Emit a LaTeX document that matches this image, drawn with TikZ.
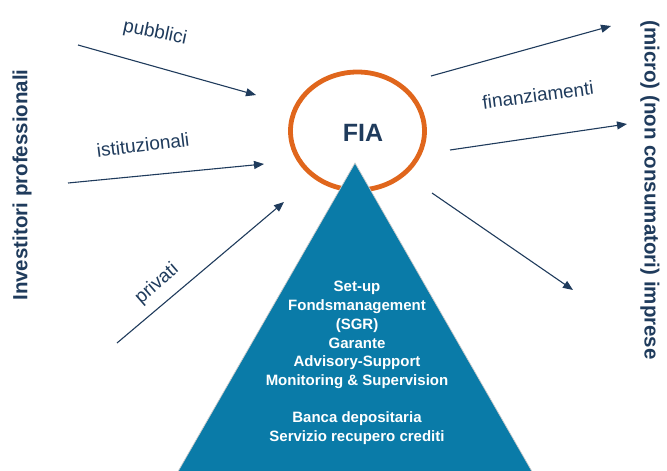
\documentclass[tikz,border=0pt]{standalone}
\usepackage{fontspec}
\setmainfont{Liberation Sans}
\usetikzlibrary{arrows.meta,shapes.geometric}
\definecolor{navy}{HTML}{1F3B5C}
\definecolor{tri}{HTML}{0A7BA8}
\definecolor{fiaorange}{HTML}{E0661C}
\begin{document}
\begin{tikzpicture}[x=1pt,y=-1pt,
  arr/.style={draw=navy, line width=1.1pt, -{Triangle[length=10pt,width=8pt]}},
  lbl/.style={text=navy, font=\fontsize{19}{22}\selectfont, inner sep=0pt},
  side/.style={text=navy, font=\bfseries\fontsize{20.5}{24}\selectfont, inner sep=0pt},
  tritext/.style={text=white, font=\bfseries\fontsize{15}{18.8}\selectfont, align=center, inner sep=0pt}]
\useasboundingbox (0,0) rectangle (667,471);
\clip (0,0) rectangle (667,471);
% side labels
\node[side, rotate=90] (inv) at (22,185) {Investitori professionali};
\node[side, rotate=-90] (imp) at (650,190) {(micro) (non consumatori) imprese};
% FIA ring
\node[ellipse, draw=fiaorange, line width=4.8pt, minimum width=134pt, minimum height=118pt, inner sep=0pt] (ring) at (357.5,131) {};
\node[text=navy, font=\bfseries\fontsize{25}{28}\selectfont, inner sep=0pt] (fia) at (363,133) {FIA};
% triangle
\coordinate (apex) at (355,163);
\coordinate (bl) at (176,475);
\coordinate (br) at (534,475);
\fill[tri] (apex) -- (br) -- (bl) -- cycle;
\draw[draw=black!20, line width=0.7pt] (bl) -- (apex) -- (br);
\node[tritext] (blockA) at (357,335) {Set-up\\Fondsmanagement\\(SGR)\\Garante\\Advisory-Support\\Monitoring \& Supervision};
\node[tritext] (blockB) at (357,428) {Banca depositaria\\Servizio recupero crediti};
% arrow coordinates
\coordinate (p1) at (78,45);   \coordinate (p2) at (256,95);
\coordinate (i1) at (68,183);  \coordinate (i2) at (264,164);
\coordinate (v1) at (117,343); \coordinate (v2) at (284,202);
\coordinate (f1) at (431,76);  \coordinate (f2) at (611,26);
\coordinate (g1) at (450,150); \coordinate (g2) at (627,124);
\coordinate (h1) at (432,193); \coordinate (h2) at (573,290);
\draw[arr] (p1) -- (p2);
\draw[arr] (i1) -- (i2);
\draw[arr] (v1) -- (v2);
\draw[arr] (f1) -- (f2);
\draw[arr] (g1) -- (g2);
\draw[arr] (h1) -- (h2);
% labels
\node[lbl, rotate=-12] (lp) at (155,33) {pubblici};
\node[lbl, rotate=7] (li) at (143,145) {istituzionali};
\node[lbl, rotate=41] (lv) at (157,284) {privati};
\node[lbl, rotate=7.5] (lf) at (538,95) {finanziamenti};
\end{tikzpicture}
\end{document}
